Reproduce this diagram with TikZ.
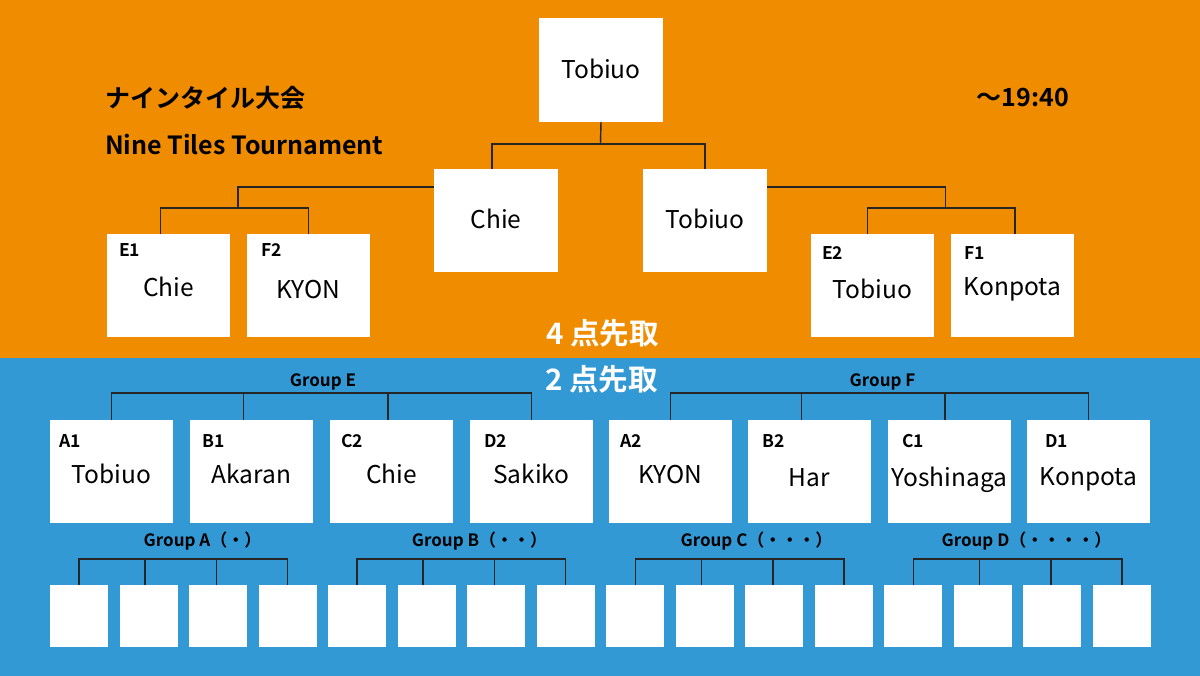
\documentclass[tikz,border=0pt]{standalone}
\usepackage{fontspec}
\setmainfont{Noto Sans CJK JP}[BoldFont={Noto Sans CJK JP Bold}]
\definecolor{bgorange}{RGB}{239,140,0}
\definecolor{bgblue}{RGB}{51,153,213}
\begin{document}
\begin{tikzpicture}[x=1pt,y=-1pt,
  box/.style={fill=white, inner sep=0, outer sep=0, anchor=north west, minimum width=123pt, minimum height=103pt},
  sbox/.style={fill=white, inner sep=0, outer sep=0, anchor=north west, minimum width=58pt, minimum height=62pt},
  nm/.style={font=\fontsize{24.5}{28}\selectfont, inner sep=0, anchor=base},
  lbl/.style={font=\bfseries\fontsize{17.5}{20}\selectfont, inner sep=0, anchor=base west},
  grp/.style={font=\bfseries\fontsize{17}{19}\selectfont, inner sep=0, anchor=base},
  big/.style={font=\bfseries\fontsize{29.5}{32}\selectfont, text=white, inner sep=0, anchor=base},
  ttl/.style={font=\bfseries\fontsize{25}{28}\selectfont, inner sep=0, anchor=base west},
  wire/.style={draw=black!85, line width=1.4pt}]
\fill[bgorange] (0,0) rectangle (1200,358);
\fill[bgblue] (0,358) rectangle (1200,676);
\useasboundingbox (0,0) rectangle (1200,676);

% titles
\node[ttl] (t1) at (105,108) {ナインタイル大会};
\node[ttl] (t2) at (105,155) {Nine Tiles Tournament};
\node[ttl, anchor=base east] (time) at (1069,107) {〜19:40};
\node[big] (p4) at (602.5,345) {4 点先取};
\node[big] (p2) at (601.5,391) {2 点先取};

% final and semifinals
\node[box, minimum width=124pt, minimum height=104pt] (top) at (539,18) {};
\node[nm] (topn) at ([yshift=-9pt]top.center) {Tobiuo};
\node[box, minimum width=124pt] (semi1) at (434,169) {};
\node[nm] (semi1n) at ([yshift=-8pt]semi1.center) {Chie};
\node[box, minimum width=124pt] (semi2) at (643,169) {};
\node[nm] (semi2n) at ([yshift=-8pt]semi2.center) {Tobiuo};

% quarterfinals
\node[box] (e1) at (107,234) {};
\node[lbl] (e1l) at ([xshift=12pt,yshift=-23pt]e1.north west) {E1};
\node[nm] (e1n) at ([yshift=-11.5pt]e1.center) {Chie};
\node[box] (f2) at (247,234) {};
\node[lbl] (f2l) at ([xshift=14pt,yshift=-23pt]f2.north west) {F2};
\node[nm] (f2n) at ([yshift=-13.5pt]f2.center) {KYON};
\node[box] (e2) at (811,234) {};
\node[lbl] (e2l) at ([xshift=11pt,yshift=-26pt]e2.north west) {E2};
\node[nm] (e2n) at ([yshift=-13.5pt]e2.center) {Tobiuo};
\node[box] (f1) at (951,234) {};
\node[lbl] (f1l) at ([xshift=13pt,yshift=-26pt]f1.north west) {F1};
\node[nm] (f1n) at ([yshift=-10.5pt]f1.center) {Konpota};

% group stage winners
\node[box] (a1) at (50,420) {};
\node[lbl] (a1l) at ([xshift=9pt,yshift=-27pt]a1.north west) {A1};
\node[nm] (a1n) at ([yshift=-11.5pt]a1.center) {Tobiuo};
\node[box] (b1) at (190,420) {};
\node[lbl] (b1l) at ([xshift=12pt,yshift=-27pt]b1.north west) {B1};
\node[nm] (b1n) at ([yshift=-11.5pt]b1.center) {Akaran};
\node[box] (c2) at (330,420) {};
\node[lbl] (c2l) at ([xshift=11pt,yshift=-27pt]c2.north west) {C2};
\node[nm] (c2n) at ([yshift=-11.5pt]c2.center) {Chie};
\node[box] (d2) at (470,420) {};
\node[lbl] (d2l) at ([xshift=14pt,yshift=-27pt]d2.north west) {D2};
\node[nm] (d2n) at ([yshift=-11.5pt]d2.center) {Sakiko};
\node[box] (a2) at (609,420) {};
\node[lbl] (a2l) at ([xshift=11pt,yshift=-27pt]a2.north west) {A2};
\node[nm] (a2n) at ([yshift=-11.5pt]a2.center) {KYON};
\node[box] (b2) at (748,420) {};
\node[lbl] (b2l) at ([xshift=14pt,yshift=-27pt]b2.north west) {B2};
\node[nm] (b2n) at ([yshift=-14.5pt]b2.center) {Har};
\node[box] (c1) at (888,420) {};
\node[lbl] (c1l) at ([xshift=14pt,yshift=-27pt]c1.north west) {C1};
\node[nm] (c1n) at ([yshift=-14.5pt]c1.center) {Yoshinaga};
\node[box] (d1) at (1027,420) {};
\node[lbl] (d1l) at ([xshift=18pt,yshift=-27pt]d1.north west) {D1};
\node[nm] (d1n) at ([yshift=-13.5pt]d1.center) {Konpota};

% group labels
\node[grp] (ge) at (323,386) {Group E};
\node[grp] (gf) at (882.5,386) {Group F};
\node[grp] (gA) at (202.5,546) {Group A（・）};
\node[grp] (gB) at (479.5,546) {Group B（・・）};
\node[grp] (gC) at (756.5,546) {Group C（・・・）};
\node[grp] (gD) at (1026.5,546) {Group D（・・・・）};

% bottom boxes
\foreach \j in {0,...,15} {
  \node[sbox] (g\j) at ({50+69.53*\j},585) {};
}

% connectors: final
\coordinate (tbar) at (600.5,144);
\draw[wire] (top.south) -- (tbar);
\draw[wire] ([xshift=-4pt]semi1.north) |- (tbar) -| (semi2.north);
% left quarter
\coordinate (lbar) at (238,208);
\draw[wire] ([yshift=-18pt]semi1.north west) -| (lbar);
\draw[wire] ([xshift=-8pt]e1.north) |- (lbar) -| (f2.north);
% right quarter
\coordinate (rbar) at (945.5,208);
\draw[wire] ([yshift=-18pt]semi2.north east) -| (rbar);
\draw[wire] ([xshift=-5pt]e2.north) |- (rbar) -| ([xshift=2.5pt]f1.north);
% group E
\coordinate (ebar) at (322,393);
\draw[wire] (a1.north) |- (ebar) -| (d2.north);
\draw[wire] ([xshift=-8pt]b1.north) -- ([xshift=-8pt]b1.north |- ebar);
\draw[wire] ([xshift=-3.5pt]c2.north) -- ([xshift=-3.5pt]c2.north |- ebar);
% group F
\coordinate (fbar) at (880,393);
\draw[wire] (a2.north) |- (fbar) -| (d1.north);
\draw[wire] ([xshift=-8pt]b2.north) -- ([xshift=-8pt]b2.north |- fbar);
\draw[wire] ([xshift=-4.5pt]c1.north) -- ([xshift=-4.5pt]c1.north |- fbar);
% groups A-D
\foreach \k in {0,...,3} {
  \pgfmathtruncatemacro\ga{4*\k}
  \pgfmathtruncatemacro\gb{4*\k+1}
  \pgfmathtruncatemacro\gc{4*\k+2}
  \pgfmathtruncatemacro\gd{4*\k+3}
  \coordinate (bar\k) at ({183+278.12*\k},559);
  \draw[wire] (g\ga.north) |- (bar\k) -| (g\gd.north);
  \draw[wire] ([xshift=-3.5pt]g\gb.north) -- ([xshift=-3.5pt]g\gb.north |- bar\k);
  \draw[wire] ([xshift=-1.5pt]g\gc.north) -- ([xshift=-1.5pt]g\gc.north |- bar\k);
}
\end{tikzpicture}
\end{document}
